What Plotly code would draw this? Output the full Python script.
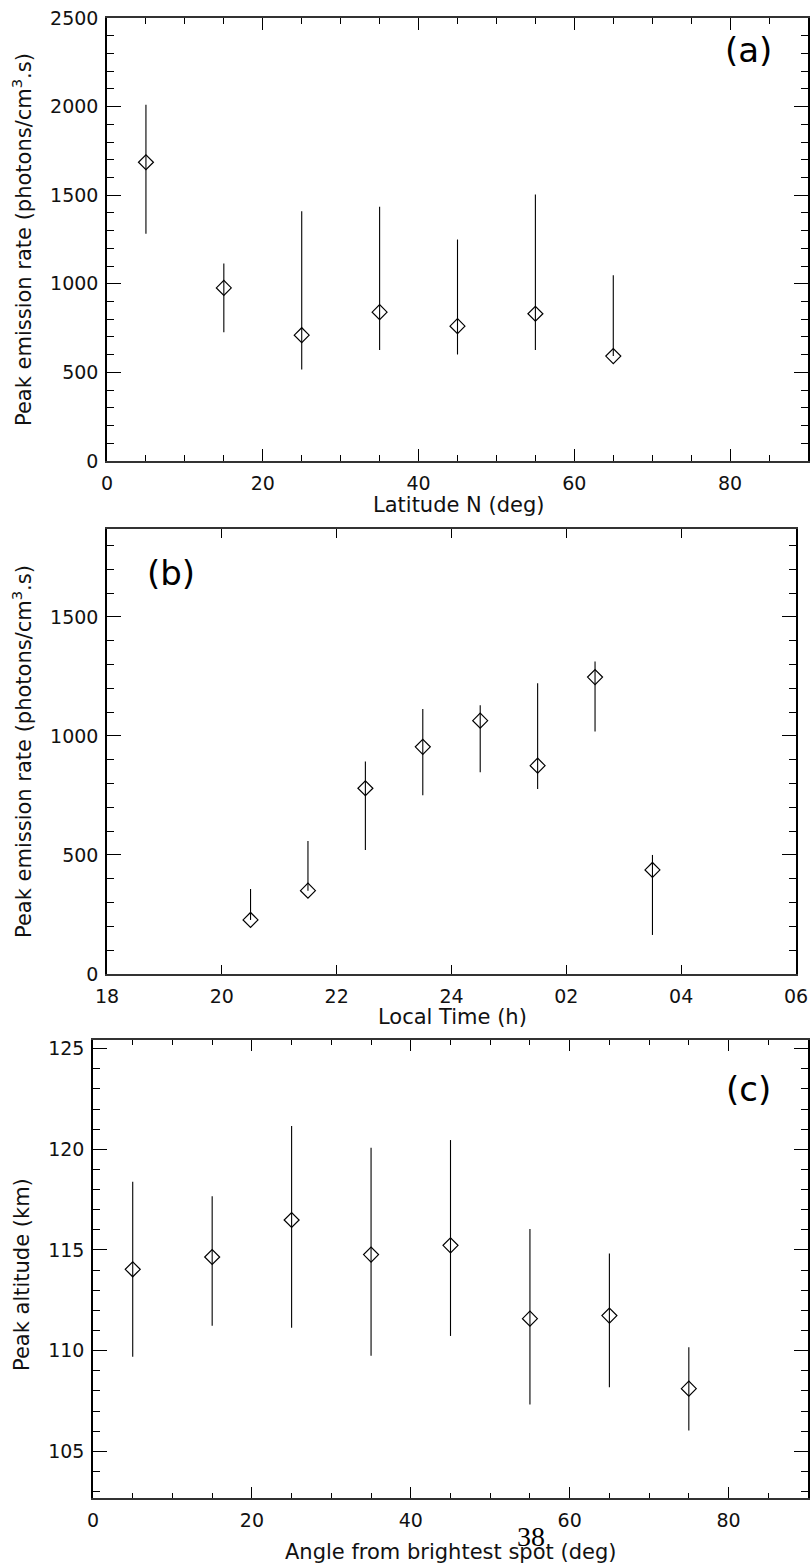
import plotly.graph_objects as go

# ---------------- data ----------------
# Panel (a): peak emission rate vs latitude
lat_a = [5, 15, 25, 35, 45, 55, 65]
rate_a = [1686, 977, 710, 840, 761, 831, 592]
rate_a_hi = [2010, 1115, 1410, 1435, 1250, 1504, 1048]
rate_a_lo = [1282, 727, 517, 626, 601, 626, 592]

# Panel (b): peak emission rate vs local time (hours past 18 continue beyond 24)
lt_b = [20.5, 21.5, 22.5, 23.5, 24.5, 25.5, 26.5, 27.5]
rate_b = [227, 350, 780, 954, 1064, 875, 1247, 437]
rate_b_hi = [357, 559, 892, 1113, 1129, 1221, 1312, 500]
rate_b_lo = [227, 350, 521, 751, 847, 777, 1018, 164]
lt_tickvals = [18, 20, 22, 24, 26, 28, 30]
lt_ticktext = ["18", "20", "22", "24", "02", "04", "06"]

# Panel (c): peak altitude vs angle from brightest spot
ang_c = [5, 15, 25, 35, 45, 55, 65, 75]
alt_c = [114.04, 114.65, 116.49, 114.77, 115.23, 111.59, 111.74, 108.11]
alt_c_hi = [118.39, 117.67, 121.16, 120.08, 120.46, 116.04, 114.83, 110.17]
alt_c_lo = [109.70, 111.23, 111.14, 109.75, 110.73, 107.33, 108.18, 106.03]

# ---------------- layout helpers ----------------
W, H = 810, 1565


def fx(px):
    return px / W


def fy(py):
    return 1 - py / H


TICKFONT = dict(family="DejaVu Sans", size=19, color="#111")
TITLEFONT = dict(family="DejaVu Sans", size=21, color="#111")

fig = go.Figure()


def add_panel(x, y, hi, lo, xa, ya):
    fig.add_trace(go.Scatter(
        x=x, y=y, mode="markers",
        xaxis=xa, yaxis=ya,
        marker=dict(symbol="diamond-open", size=11.5, color="black",
                    line=dict(width=1.2, color="black")),
        error_y=dict(type="data", symmetric=False,
                     array=[h - v for h, v in zip(hi, y)],
                     arrayminus=[v - l for v, l in zip(y, lo)],
                     width=0, thickness=1.1, color="black"),
        hoverinfo="skip",
    ))


add_panel(lat_a, rate_a, rate_a_hi, rate_a_lo, "x", "y")
add_panel(lt_b, rate_b, rate_b_hi, rate_b_lo, "x2", "y2")
add_panel(ang_c, alt_c, alt_c_hi, alt_c_lo, "x3", "y3")

common = dict(showline=True, linecolor="black", linewidth=1.5, mirror="ticks",
              ticks="inside", tickcolor="black", tickwidth=1.2, automargin=False,
              showgrid=False, zeroline=False, tickfont=TICKFONT, fixedrange=True)
xcommon = dict(common, linewidth=2, linecolor="#333")

fig.update_layout(
    template="none",
    width=W, height=H, autosize=False,
    margin=dict(l=0, r=0, t=0, b=0, pad=0),
    paper_bgcolor="white", plot_bgcolor="white",
    showlegend=False,
    # panel (a)
    xaxis=dict(xcommon, domain=[fx(107), fx(808)], anchor="y",
               range=[0, 90], tick0=0, dtick=20, ticklen=12,
               ticklabelstandoff=4,
               minor=dict(dtick=5, ticks="inside", ticklen=6, tickcolor="black", tickwidth=1)),
    yaxis=dict(common, domain=[fy(461), fy(18)], anchor="x",
               range=[0, 2500], tick0=0, dtick=500, ticklen=14,
               ticklabelstandoff=3,
               minor=dict(dtick=100, ticks="inside", ticklen=7, tickcolor="black", tickwidth=1)),
    # panel (b)
    xaxis2=dict(xcommon, domain=[fx(107), fx(796)], anchor="y2",
                range=[18, 30], tickmode="array", tickvals=lt_tickvals,
                ticktext=lt_ticktext, ticklen=9, ticklabelstandoff=4),
    yaxis2=dict(common, domain=[fy(974), fy(529)], anchor="x2",
                range=[0, 1869], tick0=0, dtick=500, ticklen=14,
                ticklabelstandoff=3,
                minor=dict(dtick=100, ticks="inside", ticklen=7, tickcolor="black", tickwidth=1)),
    # panel (c)
    xaxis3=dict(xcommon, domain=[fx(93), fx(808)], anchor="y3",
                range=[0, 90], tick0=0, dtick=20, ticklen=11,
                ticklabelstandoff=4,
                minor=dict(dtick=5, ticks="inside", ticklen=5, tickcolor="black", tickwidth=1)),
    yaxis3=dict(common, domain=[fy(1498), fy(1040)], anchor="x3",
                range=[102.68, 125.43], tick0=0, dtick=5, ticklen=14,
                ticklabelstandoff=3,
                minor=dict(dtick=1, ticks="inside", ticklen=7, tickcolor="black", tickwidth=1)),
)

ann = []


def text(px, py, s, font, angle=0, xanchor="center"):
    ann.append(dict(x=fx(px), y=fy(py), xref="paper", yref="paper", text=s,
                    showarrow=False, font=font, textangle=angle,
                    xanchor=xanchor, yanchor="middle"))


ylab = "Peak emission rate (photons/cm<sup>3</sup>.s)"
text(22, 240, ylab, TITLEFONT, angle=-90)
text(22, 752, ylab, TITLEFONT, angle=-90)
text(22, 1275, "Peak altitude (km)", TITLEFONT, angle=-90)
text(458, 505, "Latitude N (deg)", TITLEFONT)
text(452, 1017, "Local Time (h)", TITLEFONT)
text(450, 1552, "Angle from brightest spot (deg)", TITLEFONT)

PANELFONT = dict(family="DejaVu Sans", size=34, color="black")
text(748, 50, "(a)", PANELFONT)
text(171, 573, "(b)", PANELFONT)
text(748, 1089, "(c)", PANELFONT)

text(531, 1536, "38", dict(family="Liberation Serif", size=28, color="black"))

fig.update_layout(annotations=ann)

fig.write_html("out.html",
               config={"displayModeBar": False},
               post_script="document.body.style.margin='0';"
                           "document.body.style.overflow='hidden';")
